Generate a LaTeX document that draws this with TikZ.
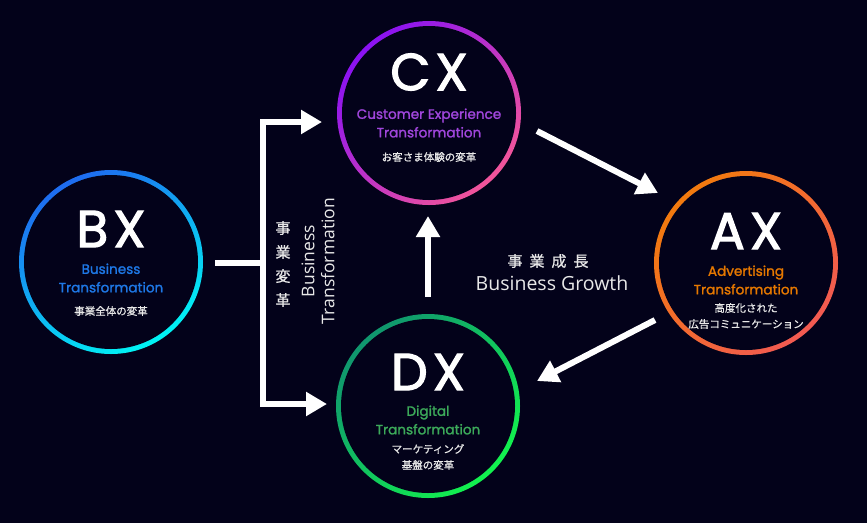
\documentclass[tikz,border=0pt]{standalone}
\usepackage{fontspec}
\setmainfont{Poppins}
\newfontfamily\popb{Poppins}[FakeBold=2.2]
\newfontfamily\popm{Poppins}[FakeBold=1.6]
\newfontfamily\jp{Noto Sans CJK JP}[FakeBold=0.9]
\newfontfamily\osans{Open Sans}
\usetikzlibrary{arrows.meta,calc}
\definecolor{bg}{HTML}{03021A}
\definecolor{bxA}{HTML}{1E6CF0}\definecolor{bxB}{HTML}{00F4F4}
\definecolor{cxA}{HTML}{8A12F2}\definecolor{cxB}{HTML}{F2559A}
\definecolor{axA}{HTML}{F27A0E}\definecolor{axB}{HTML}{F25A52}
\definecolor{dxA}{HTML}{10966E}\definecolor{dxB}{HTML}{12F24E}
\definecolor{bxT}{HTML}{1E78E6}
\definecolor{cxT}{HTML}{A046DC}
\definecolor{axT}{HTML}{E67800}
\definecolor{dxT}{HTML}{3CAA5A}
\definecolor{jpT}{HTML}{E8E8E8}
\begin{document}
\begin{tikzpicture}[x=1pt,y=-1pt,
  hub/.style={circle, minimum size=184pt, inner sep=0pt},
  bigtxt/.style={text=white, font=\popb\fontsize{52}{52}\selectfont, inner sep=0pt},
  subtxt/.style={align=center, inner sep=0pt, font=\popm\fontsize{13.6}{18.5}\selectfont},
  jptxt/.style={align=center, inner sep=0pt, text=jpT, font=\jp\fontsize{10.5}{16}\selectfont},
  sidetxt/.style={align=center, inner sep=0pt, text=jpT},
  arr/.style={draw=white, line width=6pt, -{Triangle[length=21pt, width=23pt]}},
  plain/.style={draw=white, line width=6pt}
]
\fill[bg] (0,0) rectangle (867,523);
\useasboundingbox (0,0) rectangle (867,523);

% hubs
\node[hub] (bx) at (111,262) {};
\node[hub] (cx) at (429,113) {};
\node[hub] (ax) at (746,263) {};
\node[hub] (dx) at (428,406) {};

% rings
\shade[top color=bxA, bottom color=bxB, shading angle=30] (bx) circle (92pt);
\fill[bg] (bx) circle (87pt);
\shade[top color=cxA, bottom color=cxB, shading angle=45] (cx) circle (92pt);
\fill[bg] (cx) circle (87pt);
\shade[top color=axA, bottom color=axB, shading angle=45] (ax) circle (92pt);
\fill[bg] (ax) circle (87pt);
\shade[top color=dxA, bottom color=dxB, shading angle=45] (dx) circle (92pt);
\fill[bg] (dx) circle (87pt);

% BX
\node[bigtxt] (bxl) at (111,229) {B\hspace{5pt}X};
\node[subtxt, text=bxT] (bxs) at (111,278) {Business\\Transformation};
\node[jptxt] (bxj) at (111,311) {事業全体の変革};
% CX
\node[bigtxt] (cxl) at (429,72) {C\hspace{5pt}X};
\node[subtxt, text=cxT] (cxs) at (429,123) {Customer Experience\\Transformation};
\node[jptxt] (cxj) at (429,157) {お客さま体験の変革};
% AX
\node[bigtxt] (axl) at (746,231) {A\hspace{5pt}X};
\node[subtxt, text=axT] (axs) at (746,280) {Advertising\\Transformation};
\node[jptxt] (axj) at (746,316) {高度化された\\広告コミュニケーション};
% DX
\node[bigtxt] (dxl) at (428,372) {D\hspace{5pt}X};
\node[subtxt, text=dxT] (dxs) at (428,420) {Digital\\Transformation};
\node[jptxt] (dxj) at (428,457) {マーケティング\\基盤の変革};

% side labels
\node[sidetxt, font=\jp\fontsize{15}{24}\selectfont] (bt1) at (283,264) {事\\業\\変\\革};
\node[sidetxt, rotate=90, font=\osans\fontsize{17.5}{20}\selectfont] (bt2) at (318,261) {Business\\Transformation};
\node[sidetxt, font=\jp\fontsize{15}{15}\selectfont] (bg1) at (548,261) {事\hspace{7pt}業\hspace{7pt}成\hspace{7pt}長};
\node[sidetxt, font=\osans\fontsize{19.5}{19.5}\selectfont] (bg2) at (552,283) {Business Growth};

% connector coordinates
\coordinate (bxout) at (215,263);
\coordinate (split) at (263,263);
\coordinate (cxin) at (322,122);
\coordinate (dxin) at (327,404);
\coordinate (dxtop) at (428,297);
\coordinate (cxbot) at (428,216);
\coordinate (cxout) at (537,131);
\coordinate (axin) at (658,193);
\coordinate (axout) at (655,320);
\coordinate (dxr) at (537,381);

\draw[plain] (bxout) -- (split);
\draw[arr] (split) |- (cxin);
\draw[arr] (split) |- (dxin);
\draw[arr] (dxtop) -- (cxbot);
\draw[arr] (cxout) -- (axin);
\draw[arr] (axout) -- (dxr);
\end{tikzpicture}
\end{document}
